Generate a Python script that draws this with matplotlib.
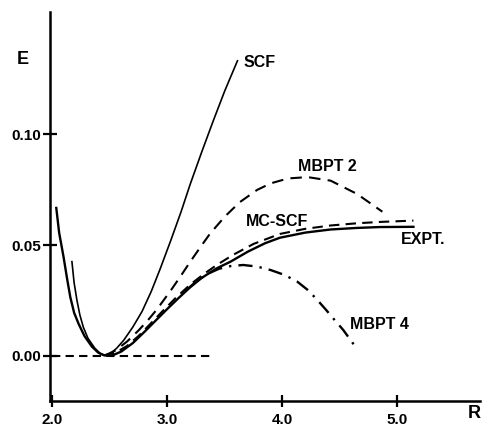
import matplotlib
matplotlib.use("Agg")
import matplotlib.pyplot as plt

# potential curves (R, E)
expt_r = [2.035, 2.06, 2.098, 2.13, 2.157, 2.19, 2.229, 2.28, 2.345, 2.40, 2.45, 2.52, 2.60, 2.70, 2.80, 2.90, 3.00, 3.10, 3.20, 3.30, 3.43, 3.55, 3.70, 3.85, 3.98, 4.20, 4.42, 4.65, 4.85, 5.14]
expt_e = [0.0667, 0.0555, 0.0447, 0.0345, 0.0265, 0.0195, 0.0145, 0.0090, 0.0042, 0.0015, 0.0003, 0.0002, 0.0020, 0.0058, 0.0108, 0.0160, 0.0212, 0.0262, 0.0310, 0.0352, 0.0395, 0.0425, 0.0470, 0.0508, 0.0533, 0.0556, 0.0570, 0.0577, 0.0581, 0.0582]

scf_r = [2.171, 2.19, 2.215, 2.24, 2.27, 2.31, 2.37, 2.42, 2.46, 2.51, 2.56, 2.62, 2.70, 2.78, 2.86, 2.94, 3.03, 3.12, 3.20, 3.30, 3.40, 3.50, 3.61]
scf_e = [0.0425, 0.0330, 0.0250, 0.0185, 0.0130, 0.0080, 0.0035, 0.0010, 0.0003, 0.0012, 0.0035, 0.0070, 0.0130, 0.0200, 0.0290, 0.0395, 0.0520, 0.0650, 0.0775, 0.0920, 0.1060, 0.1195, 0.1330]

mcscf_r = [2.45, 2.55, 2.65, 2.75, 2.85, 2.95, 3.07, 3.20, 3.32, 3.43, 3.57, 3.75, 3.98, 4.20, 4.42, 4.65, 4.85, 5.14]
mcscf_e = [0.0003, 0.0015, 0.0045, 0.0090, 0.0143, 0.0197, 0.0260, 0.0322, 0.0370, 0.0410, 0.0455, 0.0505, 0.0550, 0.0573, 0.0588, 0.0598, 0.0604, 0.0610]

mbpt2_r = [2.46, 2.55, 2.65, 2.75, 2.83, 2.91, 3.03, 3.11, 3.20, 3.29, 3.37, 3.50, 3.63, 3.78, 3.90, 4.05, 4.22, 4.42, 4.65, 4.87]
mbpt2_e = [0.0003, 0.0025, 0.0065, 0.0115, 0.0160, 0.0210, 0.0295, 0.0355, 0.0425, 0.0492, 0.0550, 0.0628, 0.0693, 0.0748, 0.0778, 0.0800, 0.0806, 0.0790, 0.0730, 0.0650]

mbpt4_r = [3.15, 3.25, 3.35, 3.45, 3.55, 3.66, 3.78, 3.90, 4.02, 4.13, 4.22, 4.30, 4.38, 4.45, 4.53, 4.635]
mbpt4_e = [0.0290, 0.0335, 0.0370, 0.0393, 0.0405, 0.0410, 0.0403, 0.0387, 0.0365, 0.0335, 0.0298, 0.0255, 0.0208, 0.0165, 0.0117, 0.0042]

zero_r = [2.0, 3.4]
zero_e = [0.0, 0.0]

x_ticks = [2.0, 3.0, 4.0, 5.0]
y_ticks = [0.00, 0.05, 0.10]

plt.rcParams['font.family'] = ['Liberation Sans', 'DejaVu Sans']
plt.rcParams['font.weight'] = 'bold'

fig = plt.figure(figsize=(4.85, 4.28), dpi=100)
ax = fig.add_axes([0.103, 0.063, 0.887, 0.909])

ax.plot(expt_r, expt_e, color='black', lw=1.7, solid_joinstyle='round')
ax.plot(scf_r, scf_e, color='black', lw=1.2, solid_joinstyle='round')
ax.plot(mcscf_r, mcscf_e, color='black', lw=1.5, linestyle=(0, (5, 3)))
ax.plot(mbpt2_r, mbpt2_e, color='black', lw=1.5, linestyle=(0, (5.5, 3.5)))
ax.plot(mbpt4_r, mbpt4_e, color='black', lw=1.7, linestyle=(0, (6, 3, 1, 3)))
ax.plot(zero_r, zero_e, color='black', lw=1.5, linestyle=(0, (4, 2.5)))

# curve labels
lab = dict(fontsize=11.5, fontweight='bold', va='center')
ax.text(3.66, 0.1324, 'SCF', **lab)
ax.text(4.14, 0.0856, 'MBPT 2', **lab)
ax.text(3.68, 0.0608, 'MC-SCF', **lab)
ax.text(5.03, 0.0527, 'EXPT.', **lab)
ax.text(4.59, 0.0140, 'MBPT 4', **lab)

fig.text(0.047, 0.862, 'E', fontsize=13, fontweight='bold', ha='center', va='center')
fig.text(0.977, 0.033, 'R', fontsize=13, fontweight='bold', ha='center', va='center')

ax.set_xlim(1.98, 5.72)
ax.set_ylim(-0.0203, 0.155)
ax.set_xticks(x_ticks)
ax.set_xticklabels([f'{v:.1f}' for v in x_ticks])
ax.set_yticks(y_ticks)
ax.set_yticklabels([f'{v:.2f}' for v in y_ticks])

for side in ['top', 'right']:
    ax.spines[side].set_visible(False)
for side in ['left', 'bottom']:
    ax.spines[side].set_linewidth(1.8)

ax.tick_params(axis='x', direction='inout', length=9, width=1.6, labelsize=11, pad=4)
ax.tick_params(axis='y', direction='inout', length=10, width=1.6, labelsize=11, pad=1)

fig.savefig('out.png', dpi=100)
